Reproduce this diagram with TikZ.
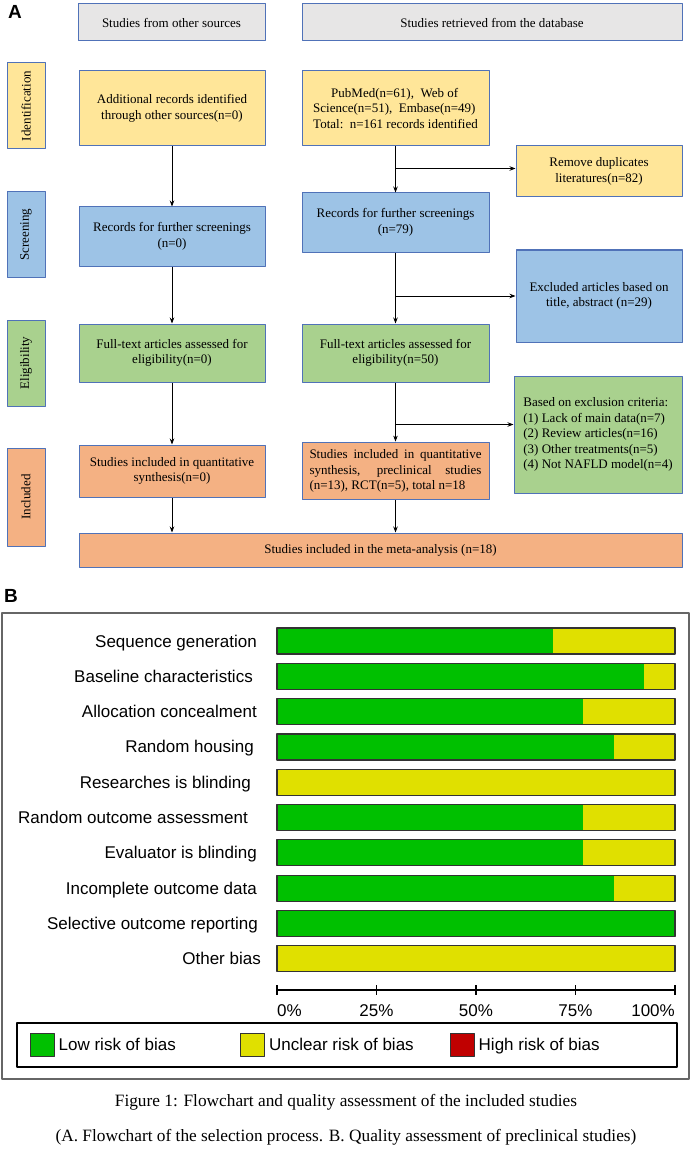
\documentclass[tikz,border=0pt]{standalone}
\usepackage{fontspec}
\setmainfont{Liberation Serif}
\newfontfamily\arialfont{Liberation Sans}
\usetikzlibrary{arrows.meta,calc}
\definecolor{hdrgray}{HTML}{E7E6E6}
\definecolor{boxline}{HTML}{5072B8}
\definecolor{idyellow}{HTML}{FFE699}
\definecolor{scblue}{HTML}{9DC3E6}
\definecolor{elgreen}{HTML}{A9D18E}
\definecolor{inorange}{HTML}{F4B183}
\definecolor{lowgreen}{HTML}{00C000}
\definecolor{unclearyellow}{HTML}{E0E000}
\definecolor{highred}{HTML}{C00000}
\begin{document}
\begin{tikzpicture}[x=1pt,y=-1pt,>={Stealth[length=6pt,width=4.5pt]},line join=round,
	flowbox/.style={draw=boxline,line width=1pt,inner sep=2pt,align=center,font=\fontsize{13}{15.5}\selectfont},
	sidebox/.style={flowbox,rotate=90,minimum height=38},
	barlab/.style={anchor=base east,inner sep=0pt,font=\arialfont\fontsize{17}{20}\selectfont},
	legsq/.style={draw=black!80,line width=1pt,minimum width=24,minimum height=23,inner sep=0pt},
	arr/.style={->,line width=0.8pt}]
	\fill[white] (0,0) rectangle (692,1150);
	\useasboundingbox (0,0) rectangle (692,1150);
	% panel A
	\node[font=\arialfont\bfseries\fontsize{19}{22}\selectfont] (pa) at (15,12) {A};
	\node[flowbox,fill=hdrgray,minimum width=187,minimum height=37] (hsrc) at (171.5,22.5) {Studies from other sources};
	\node[flowbox,fill=hdrgray,minimum width=380,minimum height=37] (hdb) at (492,22.5) {Studies retrieved from the database};
	\node[sidebox,fill=idyellow,minimum width=86] (sid) at (26,106) {Identification};
	\node[sidebox,fill=scblue,minimum width=85] (ssc) at (26,234.5) {Screening};
	\node[sidebox,fill=elgreen,minimum width=86] (sel) at (26,363) {Eligibility};
	\node[sidebox,fill=inorange,minimum width=98] (sin) at (26,497) {Included};
	\node[flowbox,fill=idyellow,minimum width=186,minimum height=75] (os1) at (172,108.5) {Additional records identified\\through other sources(n=0)};
	\node[flowbox,fill=scblue,minimum width=186,minimum height=59] (os2) at (172,236.5) {Records for further screenings\\(n=0)};
	\node[flowbox,fill=elgreen,minimum width=186,minimum height=58] (os3) at (172,353) {Full-text articles assessed for\\eligibility(n=0)};
	\node[flowbox,fill=inorange,minimum width=186,minimum height=52] (os4) at (172,471) {Studies included in quantitative\\synthesis(n=0)};
	\node[flowbox,fill=idyellow,minimum width=187,minimum height=75,align=left] (db1) at (395.5,108.5) {\hspace*{18pt}PubMed(n=61),\enspace Web of\\Science(n=51),\enspace Embase(n=49)\\Total:\enspace n=161 records identified};
	\node[flowbox,fill=scblue,minimum width=187,minimum height=59] (db2) at (395.5,222.5) {Records for further screenings\\(n=79)};
	\node[flowbox,fill=elgreen,minimum width=187,minimum height=58] (db3) at (395.5,353) {Full-text articles assessed for\\eligibility(n=50)};
	\node[flowbox,fill=inorange,minimum width=187,minimum height=52,text width=172,align=justify,inner sep=7.5pt] (db4) at (395.5,471) {Studies included in quantitative synthesis, preclinical studies (n=13), RCT(n=5), total n=18};
	\node[flowbox,fill=idyellow,minimum width=166,minimum height=51] (rm) at (599,171.5) {Remove duplicates\\literatures(n=82)};
	\node[flowbox,fill=scblue,minimum width=166,minimum height=92] (ex) at (599,296) {Excluded articles based on\\title, abstract (n=29)};
	\node[flowbox,fill=elgreen,minimum width=168,minimum height=117,align=left] (cr) at (598,434.5) {Based on exclusion criteria:\\(1) Lack of main data(n=7)\\(2) Review articles(n=16)\\(3) Other treatments(n=5)\\(4) Not NAFLD model(n=4)};
	\node[flowbox,fill=inorange,minimum width=603,minimum height=34] (meta) at (380.5,550) {Studies included in the meta-analysis (n=18)};
	\coordinate (br1) at ([yshift=-22pt]db1.south);
	\coordinate (br2) at (db2.south |- ex.west);
	\coordinate (br3) at ([yshift=-42pt]db3.south);
	\draw[arr] (os1) -- (os2);
	\draw[arr] (os2) -- (os3);
	\draw[arr] (os3) -- (os4);
	\draw[arr] (os4) -- (os4 |- meta.north);
	\draw[arr] (db1) -- (db2);
	\draw[arr] (db2) -- (db3);
	\draw[arr] (db3) -- (db4);
	\draw[arr] (db4) -- (db4 |- meta.north);
	\draw[arr] (br1) -- (rm.west |- br1);
	\draw[arr] (br2) -- (ex.west);
	\draw[arr] (br3) -- (cr.west |- br3);
	% panel B
	\def\bx{277} \def\bw{398} \def\bh{26} \def\bp{35.3} \def\btop{628}
	\node[font=\arialfont\bfseries\fontsize{19}{22}\selectfont] (pb) at (11,596) {B};
	\draw[black!60,line width=1.5pt] (2,613) rectangle (689,1079);
	\foreach \lab/\g/\lx [count=\i from 0] in {Sequence generation/9/257,Baseline characteristics/12/253,Allocation concealment/10/257,Random housing/11/254,Researches is blinding/0/251,Random outcome assessment/10/248,Evaluator is blinding/10/257,Incomplete outcome data/11/257,Selective outcome reporting/13/258,Other bias/0/261}{
		\pgfmathsetmacro\yt{\btop+\i*\bp}
		\pgfmathsetmacro\gw{\g/13*\bw}
		\fill[unclearyellow] (\bx,\yt) rectangle ++(\bw,\bh);
		\fill[lowgreen] (\bx,\yt) rectangle ++(\gw,\bh);
		\draw[black!80,line width=1.2pt] (\bx,\yt) rectangle ++(\bw,\bh);
		\node[barlab] (lab\i) at (\lx,\yt+19) {\lab};
	}
	\draw[line width=1.2pt] (\bx,990) -- ++(\bw,0);
	\foreach \t/\anc in {0/base west,25/base,50/base,75/base,100/base east}{
		\draw[line width=1.2pt] (\bx+\t/100*\bw,985) -- ++(0,10);
		\node[anchor=\anc,inner sep=0pt,font=\arialfont\fontsize{17}{20}\selectfont] (tk\t) at (\bx+\t/100*\bw,1016) {\t\%};
	}
	\draw[line width=1.2pt] (17,1023) rectangle (677,1067);
	\node[legsq,fill=lowgreen] (lg1) at (42,1044.5) {};
	\node[legsq,fill=unclearyellow] (lg2) at (252.5,1044.5) {};
	\node[legsq,fill=highred] (lg3) at (462,1044.5) {};
	\foreach \k/\txt in {1/Low risk of bias,2/Unclear risk of bias,3/High risk of bias}
		\node[anchor=base west,inner sep=4pt,font=\arialfont\fontsize{17}{20}\selectfont] (lt\k) at ([yshift=-6pt]lg\k.east) {\txt};
	% caption
	\node[font=\fontsize{17.3}{20}\selectfont] (cap1) at (346,1102) {Figure 1: Flowchart and quality assessment of the included studies};
	\node[font=\fontsize{17.3}{20}\selectfont] (cap2) at (346,1137) {(A. Flowchart of the selection process. B. Quality assessment of preclinical studies)};
\end{tikzpicture}
\end{document}
